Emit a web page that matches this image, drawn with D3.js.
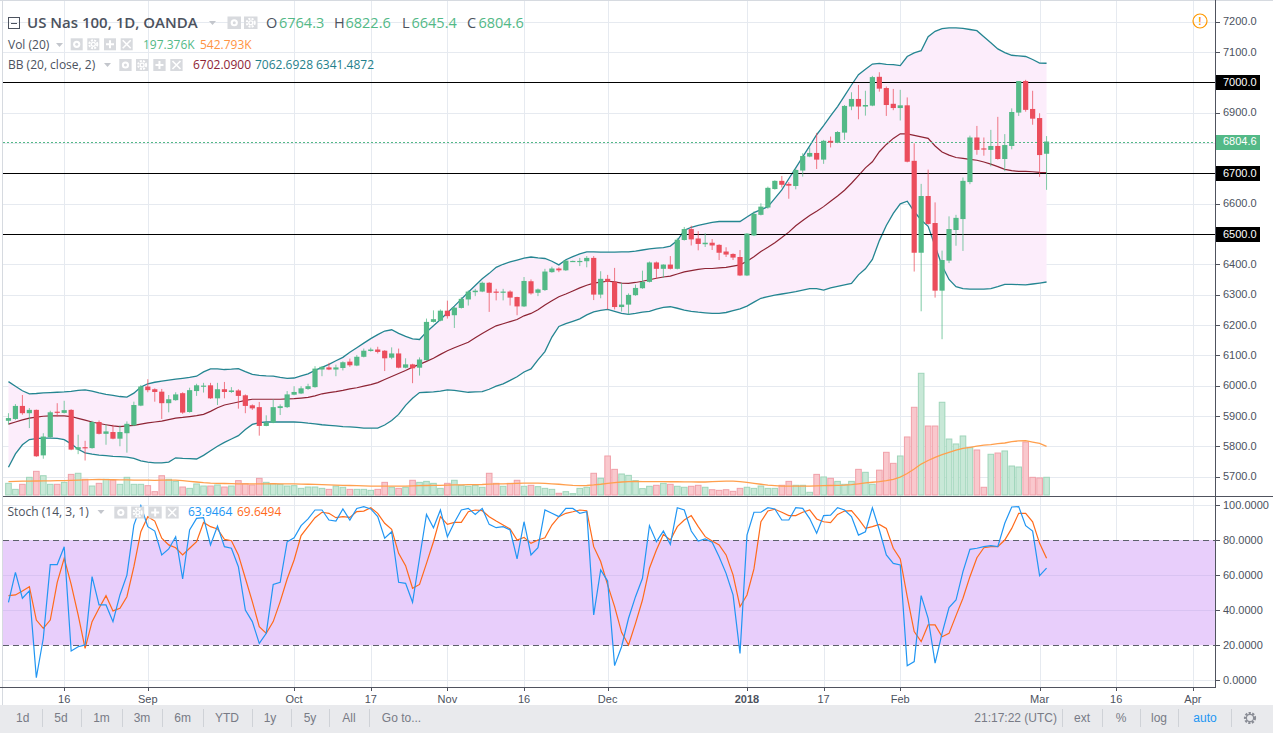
<!DOCTYPE html>
<html><head><meta charset="utf-8">
<script src="https://cdn.jsdelivr.net/npm/d3@7"></script>
<style>body{margin:0;background:#fff;overflow:hidden}svg{display:block}</style>
</head><body><svg id="c" width="1273" height="733"></svg>
<script>
// ---------- DATA (bar index 0 = 16 Aug 2017; first bar = index -8) ----------
const firstIndex = -8;
const opens = [
5884,5890,5933,5909,5920,5770,5830,5914,5910,5920,
5789,5797,5794,5880,5841,5847,5825,5843,5869,5934,
5997,5988,5980,5942,5952,5975,5913,5982,5997,6001,
5958,5988,5979,5984,5968,5935,5929,5867,5878,5926,
5929,5970,5974,5989,5995,6053,6060,6053,6058,6079,
6066,6095,6114,6119,6115,6092,6106,6059,6070,6059,
6084,6210,6214,6247,6232,6256,6284,6308,6310,6339,
6310,6306,6310,6292,6261,6344,6306,6315,6374,6386,
6380,6410,6410,6410,6421,6300,6352,6342,6259,6267,
6298,6321,6342,6406,6385,6399,6385,6480,6516,6485,
6466,6471,6464,6442,6434,6424,6363,6495,6563,6587,
6648,6675,6665,6658,6709,6755,6767,6745,6807,6801,
6834,6920,6945,6920,6923,7018,6981,6929,6915,6924,
6741,6438,6625,6536,6313,6412,6513,6549,6671,6818,
6782,6777,6790,6747,6790,6900,7004,6912,6882,6764.3];
const highs = [
5909,5939,5969,5926,5921,5843,5917,5942,5950,5922,
5838,5818,5884,5885,5873,5871,5869,5882,5947,6002,
6021,5991,5989,5969,5978,5978,5993,6006,6009,6009,
6009,6012,5995,5988,5971,5938,5946,5902,5955,5938,
5982,5998,5998,6006,6064,6064,6075,6069,6080,6089,
6101,6122,6125,6128,6117,6126,6122,6090,6072,6093,
6221,6248,6251,6280,6259,6292,6314,6319,6343,6341,
6319,6319,6314,6293,6358,6350,6320,6385,6392,6390,
6414,6412,6421,6427,6427,6377,6365,6388,6339,6304,
6333,6379,6409,6409,6400,6427,6487,6523,6527,6509,
6502,6483,6466,6456,6436,6447,6503,6574,6601,6656,
6677,6691,6671,6716,6766,6785,6833,6810,6821,6839,
6925,6967,6991,6972,7021,7033,6986,6978,6975,6950,
6799,6665,6712,6604,6445,6558,6563,6686,6824,6856,
6818,6843,6886,6829,6914,7004,7008,6972,6898,6822.6];
const lows = [
5872,5887,5904,5860,5765,5759,5828,5898,5908,5787,
5774,5753,5792,5839,5805,5823,5800,5779,5866,5932,
5978,5947,5890,5912,5950,5907,5911,5966,5977,5956,
5936,5958,5976,5924,5909,5920,5835,5866,5876,5903,
5926,5968,5972,5986,5993,6031,6051,6031,6050,6062,
6064,6093,6112,6106,6048,6087,6057,6057,6008,6033,
6082,6208,6212,6221,6190,6254,6264,6295,6308,6243,
6281,6281,6264,6232,6259,6300,6295,6312,6372,6374,
6378,6408,6394,6390,6282,6288,6251,6251,6244,6234,
6296,6319,6340,6352,6355,6383,6383,6478,6462,6446,
6457,6447,6414,6424,6414,6361,6361,6493,6561,6583,
6646,6653,6616,6647,6689,6753,6714,6731,6785,6799,
6810,6908,6878,6890,6921,6969,6889,6908,6874,6736,
6376,6245,6531,6290,6153,6404,6461,6444,6664,6761,
6758,6723,6745,6707,6779,6889,6903,6860,6688,6645.4];
const closes = [
5893,5933,5909,5920,5767,5832,5912,5911,5919,5789,
5797,5795,5880,5841,5849,5825,5847,5874,5936,5997,
5985,5979,5942,5955,5971,5911,5985,6001,6000,5958,
5988,5979,5984,5966,5933,5925,5867,5878,5929,5932,
5971,5979,5991,5998,6056,6062,6053,6060,6077,6067,
6095,6115,6119,6111,6090,6106,6059,6070,6057,6086,
6210,6219,6247,6229,6257,6286,6310,6313,6339,6306,
6306,6310,6290,6261,6345,6304,6317,6376,6386,6380,
6412,6411,6411,6421,6300,6352,6342,6259,6267,6299,
6322,6342,6406,6385,6399,6385,6481,6516,6482,6467,
6471,6462,6438,6432,6422,6363,6501,6566,6590,6652,
6675,6662,6659,6711,6757,6767,6745,6807,6801,6836,
6922,6945,6920,6925,7017,6979,6925,6915,6924,6738,
6438,6625,6533,6313,6414,6516,6553,6675,6818,6777,
6779,6790,6747,6793,6902,7004,6909,6880,6760,6804.6];
const volumes = [ // thousands
130,63,119,197,264,215,119,119,141,230,
242,175,100,130,175,167,119,197,119,119,
104,37,215,175,152,89,74,123,100,100,
112,89,100,160,126,112,186,141,126,119,
100,104,74,89,89,74,63,100,86,63,
63,63,52,63,141,86,74,86,164,141,
152,130,74,130,164,108,97,108,86,242,
130,97,130,164,97,108,93,74,63,19,
37,15,74,86,242,186,435,286,234,219,
160,71,97,108,130,119,97,86,97,108,
86,59,52,59,41,74,86,74,100,74,
74,108,152,108,108,30,230,201,186,152,
119,152,286,253,120,277,476,353,435,647,
978,1357,769,769,1034,624,569,658,528,502,
86,454,468,491,323,312,591,197,190,197.376];
const volMA = [
150,152,154,155,156,158,158,160,160,162,
165,168,172,175,172,170,168,168,166,165,
165,163,165,166,165,160,152,145,138,133,
130,128,126,125,124,123,124,125,126,125,
124,123,122,120,118,115,112,110,108,106,
104,102,100,99,100,100,100,100,102,104,
106,108,108,110,113,114,115,116,117,122,
124,125,127,130,132,133,132,130,125,120,
114,108,104,106,112,120,130,138,145,150,
152,150,150,150,149,148,148,147,146,145,
145,150,152,155,155,150,140,130,120,110,
105,100,100,100,100,100,102,104,106,108,
110,115,125,135,142,150,160,175,200,240,
290,345,385,420,450,475,500,520,532,545,
555,562,572,580,595,603,606,590,575,542.793];
const bbUpper = [
6013,5998,5983,5973,5974,5976,5977,5978,5979,5981,
5984,5986,5982,5976,5971,5968,5964,5962,5975,5995,
6006,6011,6015,6018,6021,6024,6027,6031,6045,6055,
6055,6053,6054,6056,6046,6037,6034,6032,6031,6027,
6024,6025,6032,6039,6050,6060,6070,6082,6093,6110,
6125,6140,6155,6168,6180,6184,6172,6162,6154,6152,
6177,6197,6218,6240,6262,6285,6308,6330,6352,6370,
6390,6400,6408,6414,6420,6424,6421,6419,6410,6398,
6415,6425,6434,6441,6441,6440,6440,6440,6441,6441,
6443,6447,6451,6453,6455,6460,6478,6512,6522,6528,
6533,6538,6541,6541,6541,6541,6556,6570,6580,6590,
6617,6645,6682,6718,6754,6790,6827,6857,6889,6920,
6955,6991,7025,7043,7060,7062,7059,7058,7055,7085,
7097,7104,7150,7168,7177,7179,7179,7178,7174,7170,
7150,7130,7110,7098,7089,7087,7085,7075,7063,7062.6928];
const bbBasis = [
5873,5880,5887,5893,5896,5899,5900,5900,5900,5898,
5892,5886,5880,5875,5871,5867,5865,5867,5869,5873,
5877,5880,5883,5888,5893,5895,5898,5901,5905,5915,
5927,5936,5941,5946,5951,5955,5955,5955,5955,5955,
5956,5957,5959,5961,5966,5973,5977,5980,5984,5989,
5993,5998,6003,6010,6020,6030,6040,6050,6061,6070,
6080,6090,6103,6115,6125,6134,6143,6158,6172,6185,
6197,6204,6211,6218,6230,6238,6250,6266,6280,6293,
6302,6312,6322,6331,6338,6341,6344,6342,6338,6337,
6340,6344,6349,6354,6358,6361,6368,6375,6379,6383,
6386,6386,6388,6390,6394,6398,6410,6425,6442,6456,
6471,6488,6506,6527,6544,6561,6575,6590,6608,6625,
6644,6667,6692,6718,6738,6771,6795,6815,6830,6830,
6825,6820,6815,6790,6770,6760,6752,6749,6746,6743,
6737,6730,6722,6713,6709,6706,6706,6705,6703,6702.09];
const bbLower = [
5731,5775,5805,5822,5825,5827,5827,5826,5822,5808,
5790,5778,5774,5771,5769,5767,5766,5764,5760,5752,
5748,5745,5745,5748,5762,5760,5759,5758,5770,5785,
5800,5813,5824,5835,5855,5872,5878,5880,5880,5880,
5880,5880,5879,5876,5874,5871,5869,5867,5865,5864,
5862,5860,5860,5860,5870,5885,5905,5935,5958,5977,
5978,5979,5982,5986,5984,5981,5978,5979,5980,5988,
5998,6006,6017,6029,6045,6055,6085,6112,6160,6195,
6204,6212,6220,6233,6243,6248,6251,6245,6238,6235,
6238,6242,6245,6252,6258,6260,6255,6249,6245,6242,
6240,6238,6238,6241,6247,6253,6262,6275,6288,6293,
6298,6302,6306,6310,6315,6320,6320,6315,6322,6327,
6332,6337,6365,6385,6416,6478,6528,6568,6599,6608,
6574,6546,6525,6460,6395,6350,6326,6320,6318,6318,
6318,6320,6326,6334,6334,6333,6332,6335,6338,6341.4872];
const stochK = [
44.5,61.6,46.8,51,1.6,24,66,66,76.2,16.8,
19.2,20.2,59.1,43,43,33.5,48.7,60,88.5,99.6,
87.6,85.1,71.5,74.9,81.9,57.8,85.7,92.3,92.7,77.2,
88,76.2,75.3,64.8,40.1,33.5,21.1,26.8,54.7,55.9,
79,81.3,88.2,92,97.1,97.1,91.4,90.8,97.7,91.4,
98,99,97.7,93.3,81,84.7,55.9,55.3,44.5,69.6,
94.6,87,97.1,81.9,90,97.1,98,94.6,98,88.9,
87,87.6,85.7,69.2,90.4,71.5,75.6,97.1,95.2,93.3,
98,98,95.2,96.1,37.3,62.9,56.6,8.4,19.2,35.4,
47.7,58.2,88.2,79,85.1,77.5,98.4,97.1,85.1,79.4,
80.6,78.7,70.5,61,48.7,15.4,82.8,95.8,95.8,98.4,
97.7,91.4,91.4,98.4,98,92.2,83.8,93.9,94.2,98.4,
97.1,93.3,82.8,84.7,98.4,85.7,71.5,66.7,65.8,8.4,
10.7,48.3,35.4,9.8,26.8,41.5,45.8,62,74.7,75.3,
76.2,76.8,76.2,89.5,98.8,99,88.2,85.1,59.7,63.9464];
const stochD = [
48.3,48.7,51,53.4,34.4,29.7,34.4,55.9,69.6,54.7,
37.3,18.3,33.5,41.1,48.3,39.6,41.1,47.7,64.8,84.7,
93.3,90.8,81,77.2,75.6,71.5,75.3,79,90,87.6,
86.3,80.4,79.6,71.5,58.2,44.9,30.6,26.8,33.5,44.9,
57.8,68.6,82.5,87.6,92.7,95.8,95.2,92.7,93.3,92.9,
96.2,96.5,98.4,95.2,89.5,86.1,72.4,65.4,52.5,54.7,
66.7,79,93.3,88.9,90,90,96.1,97.1,96.7,93.3,
90.8,88.5,86.3,80,81.5,78.1,80,81.3,88.5,93.3,
95.2,96.1,97.1,96.7,76.2,67.7,54.4,42,27.4,20.2,
32.5,45.8,63.9,74.3,83.2,80,87.6,91.4,93.9,87.6,
81.9,79.4,77.2,71.5,60.1,42,48.7,63.5,90.4,96.5,
97.5,95.8,93.9,93.9,95.8,97.1,92,90.4,89.9,94.6,
96.5,96.7,92,86.6,87.6,88.9,86.6,75.3,69.2,47.7,
27.8,22.1,31.6,31.6,24.9,26.8,36.9,46.8,59.1,69.9,
75.6,76.2,76.2,80,86.6,95.2,95.2,90.4,78.1,69.6494];
const timeTickLabels = ["16","Sep","Oct","17","Nov","16","Dec","2018","17","Feb","Mar","16","Apr"];
const timeTickIndex  = [0,12,33,44,55,66,78,98,109,120,140,151,162];
const priceTicks = d3.range(5700, 7201, 100);
const stochTicks = [0,20,40,60,80,100];
const levelLines = [7000, 6700, 6500];
const lastPrice = 6804.6;
const legendOHLC = [["O","6764.3"],["H","6822.6"],["L","6645.4"],["C","6804.6"]];

// ---------- LAYOUT ----------
const W=1273, H=733, L=3, R=1215, PB=496, ST=497, SB=687;
const AX="'Liberation Sans', Arial, sans-serif";
const LF="'Open Sans', 'DejaVu Sans', sans-serif";
const UP="#53b987", DN="#eb4d5c";

const bars = opens.map((o,k)=>({i:firstIndex+k,o,h:highs[k],l:lows[k],c:closes[k],v:volumes[k],
  vma:volMA[k],up:bbUpper[k],mid:bbBasis[k],lo:bbLower[k],k:stochK[k],d:stochD[k]}));

const x = d3.scaleLinear().domain([0,140]).range([64.2,1039.6]);
const y = d3.scaleLinear().domain([5700,7200]).range([476.6,21.6]);
const yv = d3.scaleLinear().domain([0,1357]).range([495,373.3]);
const ys = d3.scaleLinear().domain([0,100]).range([680.4,504.9]);
const px = v=>Math.round(v)+0.5;

const svg = d3.select('#c');
svg.append('rect').attr('width',W).attr('height',H).attr('fill','#fff');
const defs = svg.append('defs');
defs.append('clipPath').attr('id','cpP').append('rect').attr('x',L).attr('y',0).attr('width',R-L).attr('height',PB);
defs.append('clipPath').attr('id','cpS').append('rect').attr('x',L).attr('y',ST).attr('width',R-L).attr('height',SB-ST);

// ---------- GRID ----------
const grid = svg.append('g').attr('stroke','#e6eaf0').attr('stroke-width',1);
priceTicks.forEach(p=>grid.append('line').attr('x1',L).attr('x2',R).attr('y1',px(y(p))).attr('y2',px(y(p))));
timeTickIndex.forEach(t=>{
  grid.append('line').attr('x1',px(x(t))).attr('x2',px(x(t))).attr('y1',0).attr('y2',PB);
  grid.append('line').attr('x1',px(x(t))).attr('x2',px(x(t))).attr('y1',ST).attr('y2',SB);
});

// ---------- PRICE PANE ----------
const gp = svg.append('g').attr('clip-path','url(#cpP)');
gp.append('path').datum(bars).attr('fill','#fcedfb')
  .attr('d',d3.area().x(d=>x(d.i)).y0(d=>y(d.lo)).y1(d=>y(d.up)));
gp.selectAll('rect.vol').data(bars).enter().append('rect')
  .attr('x',d=>x(d.i)-2.8).attr('width',5.6)
  .attr('y',d=>yv(d.v)).attr('height',d=>495-yv(d.v))
  .attr('fill',d=>d.c>=d.o?'#c8e8d7':'#f9c8cd')
  .attr('stroke',d=>d.c>=d.o?'#9fd5ba':'#f0a0a9').attr('stroke-width',1);
gp.append('path').datum(bars).attr('fill','none').attr('stroke','#ff9f4d').attr('stroke-width',1.3)
  .attr('d',d3.line().x(d=>x(d.i)).y(d=>yv(d.vma)));
const bl = f=>d3.line().x(d=>x(d.i)).y(d=>y(f(d)));
gp.append('path').datum(bars).attr('fill','none').attr('stroke','#248591').attr('stroke-width',1.3).attr('d',bl(d=>d.up));
gp.append('path').datum(bars).attr('fill','none').attr('stroke','#248591').attr('stroke-width',1.3).attr('d',bl(d=>d.lo));
gp.append('path').datum(bars).attr('fill','none').attr('stroke','#8e2434').attr('stroke-width',1.2).attr('d',bl(d=>d.mid));
levelLines.forEach(p=>gp.append('line').attr('x1',L).attr('x2',R).attr('y1',px(y(p))).attr('y2',px(y(p))).attr('stroke','#000').attr('stroke-width',1.2));
gp.append('line').attr('x1',L).attr('x2',R).attr('y1',px(y(lastPrice))).attr('y2',px(y(lastPrice)))
  .attr('stroke',UP).attr('stroke-dasharray','2,2');
const cg = gp.selectAll('g.c').data(bars).enter().append('g');
cg.append('line').attr('x1',d=>x(d.i)).attr('x2',d=>x(d.i)).attr('y1',d=>y(d.h)).attr('y2',d=>y(d.l))
  .attr('stroke',d=>d.c>=d.o?UP:DN).attr('stroke-opacity',0.75).attr('stroke-width',1);
cg.append('rect').attr('x',d=>x(d.i)-2.6).attr('width',5.2)
  .attr('y',d=>y(Math.max(d.o,d.c))).attr('height',d=>Math.max(1.2,Math.abs(y(d.o)-y(d.c))))
  .attr('fill',d=>d.c>=d.o?UP:DN);

// ---------- STOCH PANE ----------
const gs = svg.append('g').attr('clip-path','url(#cpS)');
gs.append('rect').attr('x',L).attr('width',R-L).attr('y',ys(80)).attr('height',ys(20)-ys(80)).attr('fill','#e8cefb');
[40,60].forEach(v=>gs.append('line').attr('x1',L).attr('x2',R).attr('y1',px(ys(v))).attr('y2',px(ys(v))).attr('stroke','#d9c3f2'));
[0,100].forEach(v=>gs.append('line').attr('x1',L).attr('x2',R).attr('y1',px(ys(v))).attr('y2',px(ys(v))).attr('stroke','#e6eaf0'));
[20,80].forEach(v=>gs.append('line').attr('x1',L).attr('x2',R).attr('y1',px(ys(v))).attr('y2',px(ys(v)))
  .attr('stroke','#5d606b').attr('stroke-dasharray','6,4'));
gs.append('path').datum(bars).attr('fill','none').attr('stroke','#ff6a1a').attr('stroke-width',1.2)
  .attr('d',d3.line().x(d=>x(d.i)).y(d=>ys(d.d)));
gs.append('path').datum(bars).attr('fill','none').attr('stroke','#2196f3').attr('stroke-width',1.2)
  .attr('d',d3.line().x(d=>x(d.i)).y(d=>ys(d.k)));

// ---------- FRAME ----------
svg.append('line').attr('x1',2.5).attr('x2',2.5).attr('y1',0).attr('y2',705).attr('stroke','#d6dae0');
svg.append('line').attr('x1',0).attr('x2',W).attr('y1',0.5).attr('y2',0.5).attr('stroke','#d6dae0');
svg.append('line').attr('x1',R+0.5).attr('x2',R+0.5).attr('y1',0).attr('y2',SB+1).attr('stroke','#50535e');
svg.append('line').attr('x1',L).attr('x2',W).attr('y1',PB+0.5).attr('y2',PB+0.5).attr('stroke','#50535e');
svg.append('line').attr('x1',0).attr('x2',R+1).attr('y1',SB+0.5).attr('y2',SB+0.5).attr('stroke','#50535e');

// ---------- AXES ----------
const ax = svg.append('g').attr('font-family',AX).attr('font-size',11).attr('fill','#4c525e');
priceTicks.forEach(p=>{
  ax.append('line').attr('x1',R).attr('x2',R+5).attr('y1',px(y(p))).attr('y2',px(y(p))).attr('stroke','#50535e');
  ax.append('text').attr('x',1223).attr('y',y(p)).attr('dy','0.35em').text(d3.format('.1f')(p));
});
stochTicks.forEach(v=>{
  ax.append('line').attr('x1',R).attr('x2',R+5).attr('y1',px(ys(v))).attr('y2',px(ys(v))).attr('stroke','#50535e');
  ax.append('text').attr('x',1223).attr('y',ys(v)).attr('dy','0.35em').text(d3.format('.4f')(v));
});
levelLines.forEach(p=>{
  ax.append('rect').attr('x',R+1).attr('y',Math.round(y(p))-7).attr('width',44).attr('height',15).attr('fill','#000');
  ax.append('text').attr('x',1223).attr('y',y(p)).attr('dy','0.35em').attr('fill','#fff').text(d3.format('.1f')(p));
});
ax.append('rect').attr('x',R+1).attr('y',Math.round(y(lastPrice))-7).attr('width',44).attr('height',15).attr('fill',UP);
ax.append('text').attr('x',1223).attr('y',y(lastPrice)).attr('dy','0.35em').attr('fill','#fff').text(d3.format('.1f')(lastPrice));
timeTickIndex.forEach((t,j)=>{
  ax.append('line').attr('x1',px(x(t))).attr('x2',px(x(t))).attr('y1',SB).attr('y2',SB+4).attr('stroke','#50535e');
  ax.append('text').attr('x',x(t)).attr('y',699).attr('dy','0.35em').attr('text-anchor','middle')
    .attr('font-weight',timeTickLabels[j]==='2018'?'bold':'normal').text(timeTickLabels[j]);
});
svg.append('circle').attr('cx',1200).attr('cy',21).attr('r',7).attr('fill','none').attr('stroke','#ff9800').attr('stroke-width',1.2);
svg.append('text').attr('x',1200).attr('y',21).attr('dy','0.35em').attr('text-anchor','middle').attr('font-family',AX)
  .attr('font-size',10).attr('font-weight','bold').attr('fill','#ff9800').text('!');

// ---------- LEGENDS ----------
const lg = svg.append('g').attr('font-family',LF).attr('fill','#4c525e');
function tri(xx,yy){lg.append('path').attr('d',`M${xx},${yy-2}L${xx+7},${yy-2}L${xx+3.5},${yy+2}Z`).attr('fill','#c3c6cc');}
function icon(x0,y0,w,h,kind){
  const g=lg.append('g');
  g.append('rect').attr('x',x0).attr('y',y0).attr('width',w).attr('height',h).attr('fill','#d8dade');
  const cx=x0+w/2, cy=y0+h/2;
  if(kind==='eye'){g.append('circle').attr('cx',cx).attr('cy',cy).attr('r',3.6).attr('fill','#fff');g.append('circle').attr('cx',cx).attr('cy',cy).attr('r',1.5).attr('fill','#d8dade');}
  if(kind==='gear'){g.append('circle').attr('cx',cx).attr('cy',cy).attr('r',4).attr('fill','none').attr('stroke','#fff').attr('stroke-width',2).attr('stroke-dasharray','2,1.2');g.append('circle').attr('cx',cx).attr('cy',cy).attr('r',2.6).attr('fill','#fff');g.append('circle').attr('cx',cx).attr('cy',cy).attr('r',1.2).attr('fill','#d8dade');}
  if(kind==='plus'){g.append('path').attr('d',`M${cx-4},${cy}H${cx+4}M${cx},${cy-4}V${cy+4}`).attr('stroke','#fff').attr('stroke-width',2);}
  if(kind==='x'){g.append('path').attr('d',`M${cx-4},${cy-4}L${cx+4},${cy+4}M${cx+4},${cy-4}L${cx-4},${cy+4}`).attr('stroke','#fff').attr('stroke-width',1.6);}
}
lg.append('rect').attr('x',8.5).attr('y',17.5).attr('width',11).attr('height',11).attr('fill','none').attr('stroke','#4c525e');
lg.append('line').attr('x1',11).attr('x2',17).attr('y1',23.5).attr('y2',23.5).attr('stroke','#4c525e');
lg.append('text').attr('x',27).attr('y',28).attr('font-size',15).attr('font-weight',600).text('US Nas 100, 1D, OANDA');
tri(209,23);
icon(227.5,16.5,13.5,12.5,'eye'); icon(244,16.5,13.5,12.5,'gear');
const ohlcX=[[266,279],[334,345.5],[402,411.5],[467,478.5]];
legendOHLC.forEach((p,j)=>{
  lg.append('text').attr('x',ohlcX[j][0]).attr('y',28).attr('font-size',14.5).text(p[0]);
  lg.append('text').attr('x',ohlcX[j][1]).attr('y',28).attr('font-size',14.5).attr('fill',UP).text(p[1]);
});
lg.append('text').attr('x',8).attr('y',48.5).attr('font-size',12).text('Vol (20)');
tri(56,45);
[[70.7,'eye'],[87.3,'gear'],[104,'plus'],[120.7,'x']].forEach(a=>icon(a[0],38.3,12,12,a[1]));
lg.append('text').attr('x',143).attr('y',48.5).attr('font-size',12).attr('fill',UP).text(d3.format('.3f')(volumes[volumes.length-1])+'K');
lg.append('text').attr('x',200).attr('y',48.5).attr('font-size',12).attr('fill','#ff9443').text(d3.format('.3f')(volMA[volMA.length-1])+'K');
lg.append('text').attr('x',8).attr('y',69).attr('font-size',12).text('BB (20, close, 2)');
tri(104,65);
[[119.3,'eye'],[136,'gear'],[153.3,'plus'],[170.3,'x']].forEach(a=>icon(a[0],59,12.3,12,a[1]));
lg.append('text').attr('x',193).attr('y',69).attr('font-size',12).attr('fill','#8e2434').text(d3.format('.4f')(bbBasis[bbBasis.length-1]));
lg.append('text').attr('x',255).attr('y',69).attr('font-size',12).attr('fill','#1f7f8b').text(d3.format('.4f')(bbUpper[bbUpper.length-1]));
lg.append('text').attr('x',316).attr('y',69).attr('font-size',12).attr('fill','#1f7f8b').text(d3.format('.4f')(bbLower[bbLower.length-1]));
lg.append('text').attr('x',7.5).attr('y',516).attr('font-size',12).text('Stoch (14, 3, 1)');
tri(97.5,512);
[[114.3,'eye'],[131.2,'gear'],[148.7,'plus'],[165.7,'x']].forEach(a=>icon(a[0],506.5,13,12,a[1]));
lg.append('text').attr('x',188).attr('y',516).attr('font-size',12).attr('fill','#2196f3').text(d3.format('.4f')(stochK[stochK.length-1]));
lg.append('text').attr('x',237).attr('y',516).attr('font-size',12).attr('fill','#ff6a1a').text(d3.format('.4f')(stochD[stochD.length-1]));

// ---------- TOOLBAR ----------
const tb = svg.append('g').attr('font-family',AX).attr('font-size',12).attr('fill','#787b86');
tb.append('rect').attr('x',0).attr('y',705).attr('width',W).attr('height',28).attr('fill','#e9eaed');
const leftItems=[['1d',22.7],['5d',61],['1m',101.5],['3m',142],['6m',182.6],['YTD',227],['1y',270],['5y',310],['All',349],['Go to...',401.5]];
leftItems.forEach(a=>tb.append('text').attr('x',a[1]).attr('y',718).attr('dy','0.35em').attr('text-anchor','middle').text(a[0]));
[42,81,122,162,203,252,290.6,328.7,369.3,1062,1102,1140,1178,1231].forEach(s=>
  tb.append('line').attr('x1',px(s)).attr('x2',px(s)).attr('y1',709).attr('y2',727).attr('stroke','#cfd2d7'));
tb.append('text').attr('x',1057).attr('y',718).attr('dy','0.35em').attr('text-anchor','end').text('21:17:22 (UTC)');
[['ext',1082],['%',1121],['log',1159]].forEach(a=>tb.append('text').attr('x',a[1]).attr('y',718).attr('dy','0.35em').attr('text-anchor','middle').text(a[0]));
tb.append('text').attr('x',1205).attr('y',718).attr('dy','0.35em').attr('text-anchor','middle').attr('fill','#2196f3').text('auto');
const gx=1250, gy=718;
tb.append('circle').attr('cx',gx).attr('cy',gy).attr('r',5).attr('fill','none').attr('stroke','#8a8d96').attr('stroke-width',2.2).attr('stroke-dasharray','2.2,1.4');
tb.append('circle').attr('cx',gx).attr('cy',gy).attr('r',3.6).attr('fill','none').attr('stroke','#8a8d96').attr('stroke-width',1.2);
</script></body></html>
